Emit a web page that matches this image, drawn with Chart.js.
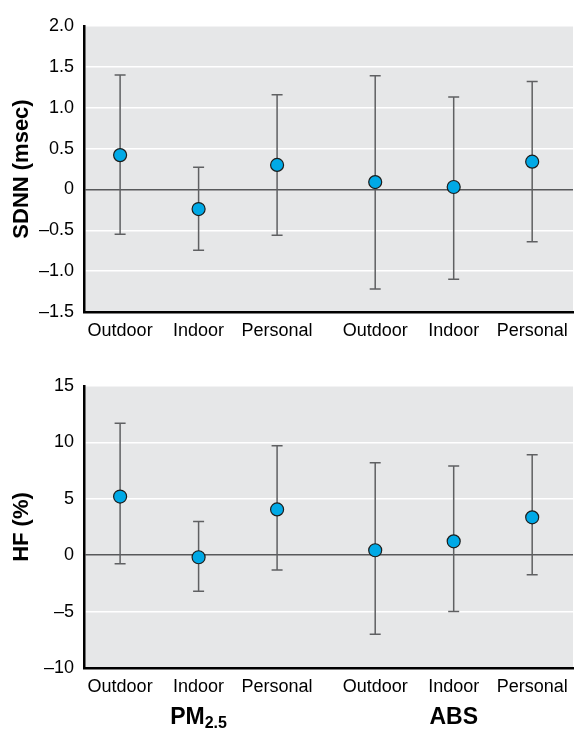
<!DOCTYPE html>
<html>
<head>
<meta charset="utf-8">
<script src="https://cdn.jsdelivr.net/npm/chart.js@4/dist/chart.umd.min.js"></script>
<style>
  html, body { margin: 0; padding: 0; background: #fff; }
  #wrap { position: relative; width: 583px; height: 733px; }
  #wrap canvas { position: absolute; left: 0; }
</style>
</head>
<body>
<div id="wrap">
  <canvas id="sdnn" width="583" height="350" style="top:0"></canvas>
  <canvas id="hf" width="583" height="373" style="top:360px"></canvas>
</div>
<script>
// categories along the x axis, two exposure groups of three
const categories = ["Outdoor", "Indoor", "Personal", "Outdoor", "Indoor", "Personal"];
const xSlots = [1, 2, 3, 4.25, 5.25, 6.25];
const groupNames = [["PM", "2.5"], ["ABS", ""]];
const groupMembers = [[0, 1, 2], [3, 4, 5]];

// SDNN (msec): estimate with lower / upper CI
const sdnnEst  = [0.42, -0.24, 0.30, 0.09, 0.03, 0.34];
const sdnnLow  = [-0.55, -0.745, -0.56, -1.22, -1.10, -0.64];
const sdnnHigh = [1.40, 0.27, 1.16, 1.39, 1.13, 1.32];
const sdnnTicks = [-1.5, -1.0, -0.5, 0, 0.5, 1.0, 1.5, 2.0];

// HF (%): estimate with lower / upper CI
const hfEst  = [5.2, -0.18, 4.06, 0.44, 1.23, 3.36];
const hfLow  = [-0.76, -3.2, -1.32, -7.0, -5.0, -1.73];
const hfHigh = [11.7, 2.98, 9.7, 8.2, 7.9, 8.9];
const hfTicks = [-10, -5, 0, 5, 10, 15];

const FONT = "'Liberation Sans Narrow', 'Liberation Sans', Arial, sans-serif";

const panelBg = {
    id: "panelBg",
    beforeDraw(chart) {
        const a = chart.chartArea;
        const ctx = chart.ctx;
        ctx.save();
        ctx.fillStyle = "#e6e7e8";
        ctx.fillRect(a.left, a.top, a.right - a.left, a.bottom - a.top);
        ctx.restore();
    }
};

const errorBars = {
    id: "errorBars",
    beforeDatasetsDraw(chart) {
        const ctx = chart.ctx;
        const xs = chart.scales.x, ys = chart.scales.y;
        chart.data.datasets.forEach(ds => {
            ds.data.forEach((p, i) => {
                const px = xs.getPixelForValue(p.x);
                const top = ys.getPixelForValue(ds.errHigh[i]);
                const bot = ys.getPixelForValue(ds.errLow[i]);
                ctx.save();
                ctx.strokeStyle = "#5f6062";
                ctx.lineWidth = 1.5;
                ctx.beginPath();
                ctx.moveTo(px, top); ctx.lineTo(px, bot);
                ctx.moveTo(px - 5.5, top); ctx.lineTo(px + 5.5, top);
                ctx.moveTo(px - 5.5, bot); ctx.lineTo(px + 5.5, bot);
                ctx.stroke();
                ctx.restore();
            });
        });
    }
};

const groupLabels = {
    id: "groupLabels",
    afterDraw(chart) {
        const ctx = chart.ctx;
        const xs = chart.scales.x;
        ctx.save();
        ctx.fillStyle = "#000";
        ctx.textBaseline = "alphabetic";
        groupMembers.forEach((m, g) => {
            const mid = m.reduce((s, i) => s + xSlots[i], 0) / m.length;
            const cx = xs.getPixelForValue(mid);
            const [main, sub] = groupNames[g];
            ctx.font = "bold 23px " + FONT;
            const w1 = ctx.measureText(main).width;
            ctx.font = "bold 16px " + FONT;
            const w2 = sub ? ctx.measureText(sub).width : 0;
            const x0 = cx - (w1 + w2) / 2;
            ctx.font = "bold 23px " + FONT;
            ctx.fillText(main, x0, 364);
            if (sub) {
                ctx.font = "bold 16px " + FONT;
                ctx.fillText(sub, x0 + w1, 368);
            }
        });
        ctx.restore();
    }
};

function fmt(v, dec) {
    if (v === 0) return "0";
    const s = dec ? Math.abs(v).toFixed(1) : String(Math.abs(v));
    return (v < 0 ? "\u2013" : "") + s;
}

function makeChart(id, est, low, high, ticks, title, dec, bottomPad, xHeight, extra) {
    return new Chart(document.getElementById(id).getContext("2d"), {
        type: "scatter",
        data: {
            datasets: [{
                data: xSlots.map((x, i) => ({ x: x, y: est[i] })),
                errLow: low,
                errHigh: high,
                pointRadius: 6.5,
                pointHoverRadius: 6.5,
                backgroundColor: "#00a9e6",
                borderColor: "#1d1d1b",
                borderWidth: 1.2
            }]
        },
        options: {
            responsive: false,
            animation: false,
            devicePixelRatio: 1,
            layout: { padding: { top: 26, right: 10, left: 0, bottom: bottomPad } },
            plugins: { legend: { display: false }, tooltip: { enabled: false } },
            scales: {
                x: {
                    type: "linear",
                    min: 0.54,
                    max: 6.77,
                    afterFit: s => { s.height = xHeight; },
                    afterBuildTicks: s => { s.ticks = xSlots.map(v => ({ value: v })); },
                    grid: { display: false, drawTicks: false },
                    border: { display: true, color: "#000", width: 2.5 },
                    ticks: {
                        autoSkip: false,
                        maxRotation: 0,
                        padding: 8,
                        color: "#000",
                        font: { family: FONT, size: 18 },
                        callback: (v, i) => categories[i]
                    }
                },
                y: {
                    min: ticks[0],
                    max: ticks[ticks.length - 1],
                    afterFit: s => { s.width = 84; },
                    afterBuildTicks: s => { s.ticks = ticks.map(v => ({ value: v })); },
                    grid: {
                        drawTicks: false,
                        color: c => c.tick && c.tick.value === 0 ? "#58595b" : "#ffffff",
                        lineWidth: c => c.tick && c.tick.value === 0 ? 1.5 : 1.5
                    },
                    border: { display: true, color: "#000", width: 2.5 },
                    ticks: {
                        padding: 10,
                        color: "#000",
                        font: { family: FONT, size: 18 },
                        callback: v => fmt(v, dec)
                    },
                    title: {
                        display: true,
                        text: title,
                        color: "#000",
                        font: { family: FONT, size: 22, weight: "bold" },
                        padding: { top: 9, bottom: 0 }
                    }
                }
            }
        },
        plugins: [panelBg, errorBars].concat(extra)
    });
}

makeChart("sdnn", sdnnEst, sdnnLow, sdnnHigh, sdnnTicks, "SDNN (msec)", true, 0, 38, []);
makeChart("hf", hfEst, hfLow, hfHigh, hfTicks, "HF (%)", false, 30, 35, [groupLabels]);
</script>
</body>
</html>
